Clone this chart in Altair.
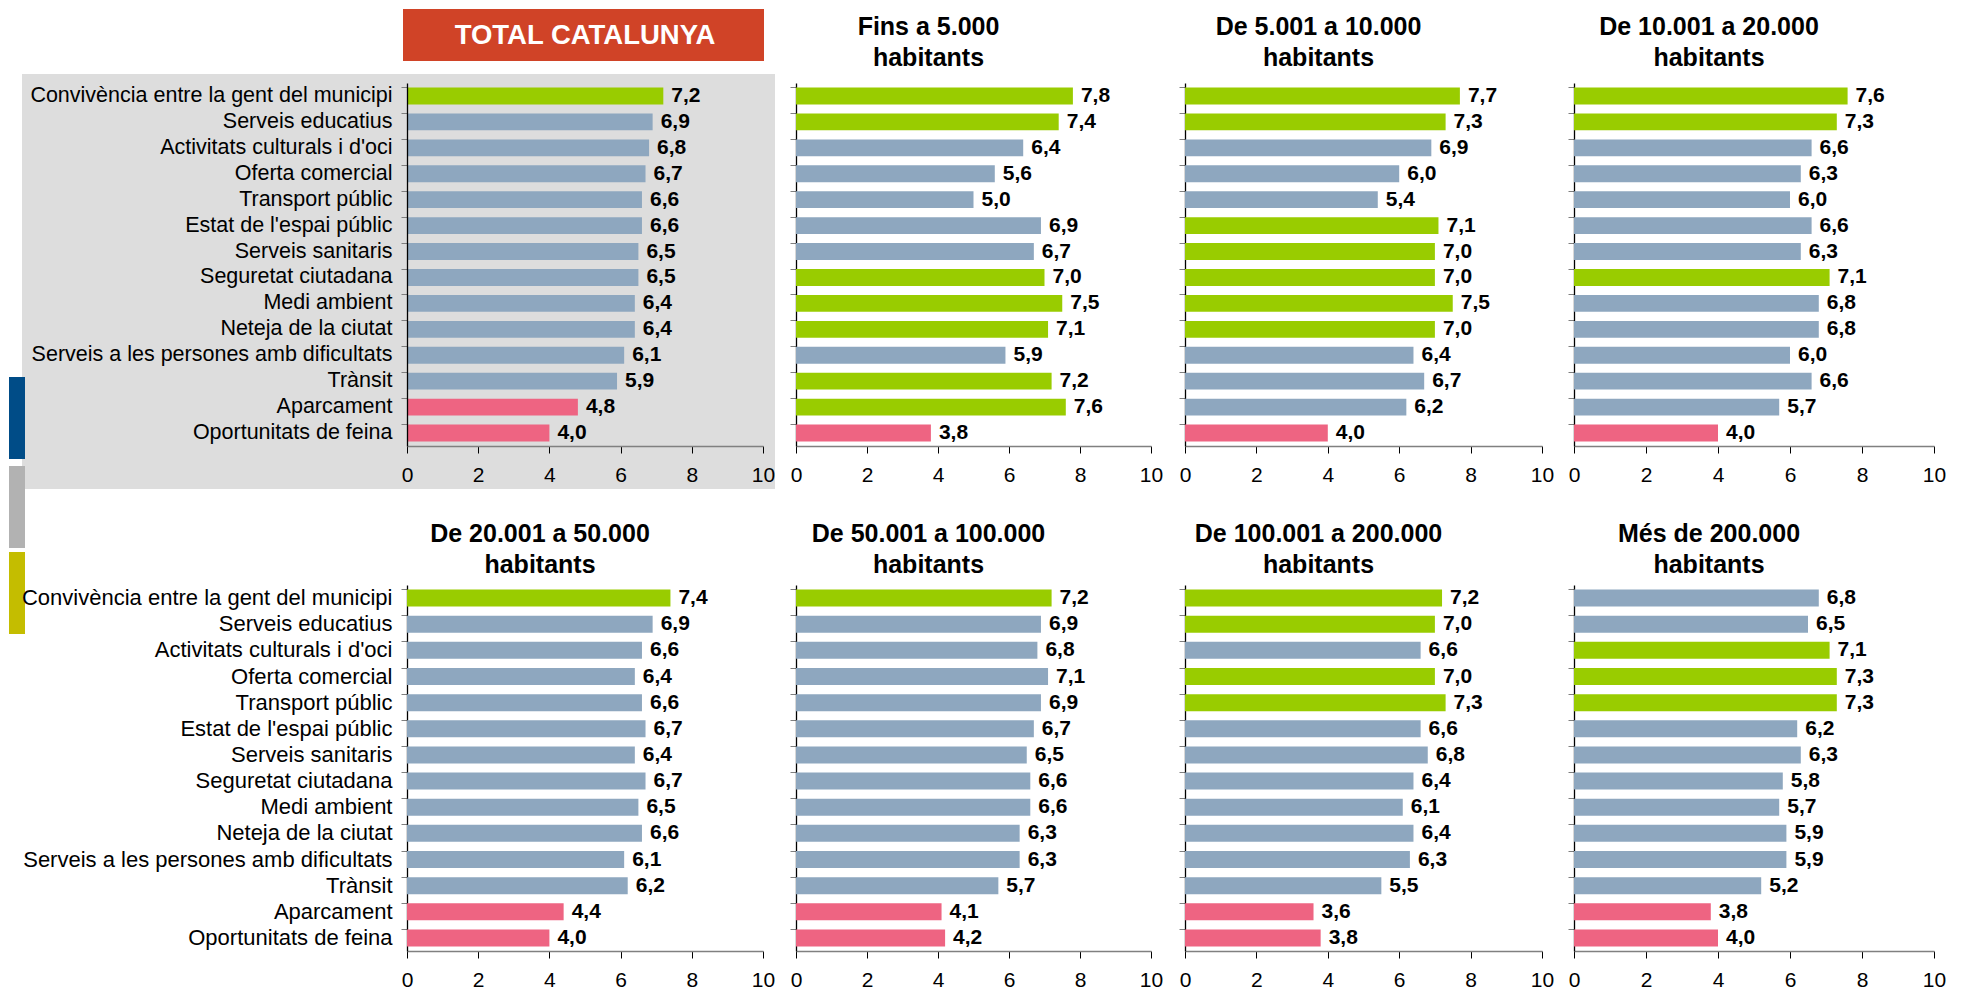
import altair as alt
import pandas as pd

FONT = "Liberation Sans"

categories = [
    "Convivència entre la gent del municipi",
    "Serveis educatius",
    "Activitats culturals i d'oci",
    "Oferta comercial",
    "Transport públic",
    "Estat de l'espai públic",
    "Serveis sanitaris",
    "Seguretat ciutadana",
    "Medi ambient",
    "Neteja de la ciutat",
    "Serveis a les persones amb dificultats",
    "Trànsit",
    "Aparcament",
    "Oportunitats de feina",
]

panel_titles = [
    "TOTAL CATALUNYA",
    ["Fins a 5.000", "habitants"],
    ["De 5.001 a 10.000", "habitants"],
    ["De 10.001 a 20.000", "habitants"],
    ["De 20.001 a 50.000", "habitants"],
    ["De 50.001 a 100.000", "habitants"],
    ["De 100.001 a 200.000", "habitants"],
    ["Més de 200.000", "habitants"],
]

total_vals = [7.2, 6.9, 6.8, 6.7, 6.6, 6.6, 6.5, 6.5, 6.4, 6.4, 6.1, 5.9, 4.8, 4.0]
fins5_vals = [7.8, 7.4, 6.4, 5.6, 5.0, 6.9, 6.7, 7.0, 7.5, 7.1, 5.9, 7.2, 7.6, 3.8]
de5_10_vals = [7.7, 7.3, 6.9, 6.0, 5.4, 7.1, 7.0, 7.0, 7.5, 7.0, 6.4, 6.7, 6.2, 4.0]
de10_20_vals = [7.6, 7.3, 6.6, 6.3, 6.0, 6.6, 6.3, 7.1, 6.8, 6.8, 6.0, 6.6, 5.7, 4.0]
de20_50_vals = [7.4, 6.9, 6.6, 6.4, 6.6, 6.7, 6.4, 6.7, 6.5, 6.6, 6.1, 6.2, 4.4, 4.0]
de50_100_vals = [7.2, 6.9, 6.8, 7.1, 6.9, 6.7, 6.5, 6.6, 6.6, 6.3, 6.3, 5.7, 4.1, 4.2]
de100_200_vals = [7.2, 7.0, 6.6, 7.0, 7.3, 6.6, 6.8, 6.4, 6.1, 6.4, 6.3, 5.5, 3.6, 3.8]
mes200_vals = [6.8, 6.5, 7.1, 7.3, 7.3, 6.2, 6.3, 5.8, 5.7, 5.9, 5.9, 5.2, 3.8, 4.0]

# colour class of each bar: A = high (green), M = middle (blue-grey), B = low (pink)
total_cls = ["A", "M", "M", "M", "M", "M", "M", "M", "M", "M", "M", "M", "B", "B"]
fins5_cls = ["A", "A", "M", "M", "M", "M", "M", "A", "A", "A", "M", "A", "A", "B"]
de5_10_cls = ["A", "A", "M", "M", "M", "A", "A", "A", "A", "A", "M", "M", "M", "B"]
de10_20_cls = ["A", "A", "M", "M", "M", "M", "M", "A", "M", "M", "M", "M", "M", "B"]
de20_50_cls = ["A", "M", "M", "M", "M", "M", "M", "M", "M", "M", "M", "M", "B", "B"]
de50_100_cls = ["A", "M", "M", "M", "M", "M", "M", "M", "M", "M", "M", "M", "B", "B"]
de100_200_cls = ["A", "A", "M", "A", "A", "M", "M", "M", "M", "M", "M", "M", "B", "B"]
mes200_cls = ["M", "M", "A", "A", "A", "M", "M", "M", "M", "M", "M", "M", "B", "B"]

all_vals = [total_vals, fins5_vals, de5_10_vals, de10_20_vals,
            de20_50_vals, de50_100_vals, de100_200_vals, mes200_vals]
all_cls = [total_cls, fins5_cls, de5_10_cls, de10_20_cls,
           de20_50_cls, de50_100_cls, de100_200_cls, mes200_cls]

x_ticks = [0, 2, 4, 6, 8, 10]

GREEN = "#99CC00"
BLUE = "#8EA7BF"
PINK = "#EE6482"

col_widths = [356, 355, 357, 360]
row_heights = [363, 366]
title_offsets = [12, 7]


def make_panel(i):
    vals = all_vals[i]
    cls = all_cls[i]
    df = pd.DataFrame({
        "cat": categories,
        "value": vals,
        "cls": cls,
        "label": [f"{v:.1f}".replace(".", ",") for v in vals],
    })
    show_labels = i in (0, 4)
    z = 1 if i == 0 else 0
    y_axis = alt.Axis(
        title=None, labels=show_labels, labelFontSize=21.5 if i == 0 else 22,
        labelFont=FONT, labelColor="black", labelLimit=600, labelPadding=9,
        ticks=True, tickSize=6, tickColor="#7f7f7f", bandPosition=0,
        domainColor="black", domainWidth=1.3, grid=False, zindex=z,
    )
    x_axis = alt.Axis(
        title=None, values=x_ticks, format="d", grid=False,
        labelFontSize=21, labelFont=FONT, labelColor="black",
        labelPadding=11, labelFlush=False, labelOverlap=False,
        tickSize=7, tickColor="black", domainColor="#808080", domainWidth=1.3,
        zindex=z,
    )
    base = alt.Chart(df).encode(
        y=alt.Y("cat:N", sort=categories,
                scale=alt.Scale(paddingInner=0.35, paddingOuter=0.175),
                axis=y_axis),
        x=alt.X("value:Q", scale=alt.Scale(domain=[0, 10], nice=False), axis=x_axis),
    )
    bars = base.mark_bar().encode(
        color=alt.Color("cls:N", scale=alt.Scale(domain=["A", "M", "B"],
                                                 range=[GREEN, BLUE, PINK]),
                        legend=None)
    )
    text = base.mark_text(align="left", baseline="middle", dx=8, font=FONT,
                          fontSize=21, fontWeight="bold", color="black").encode(
        text="label:N"
    )
    w = col_widths[i % 4]
    h = row_heights[i // 4]
    if i == 0:
        one = pd.DataFrame({"k": [0]})
        bg = alt.Chart(one).mark_rect(color="#DDDDDD").encode(
            x=alt.value(-385), x2=alt.value(368), y=alt.value(-9), y2=alt.value(406))
        red = alt.Chart(one).mark_rect(color="#D04327").encode(
            x=alt.value(-4), x2=alt.value(357), y=alt.value(-74), y2=alt.value(-22))
        red_txt = alt.Chart(one).mark_text(
            align="center", baseline="middle", font=FONT, fontSize=27.5,
            fontWeight="bold", color="white").encode(
            x=alt.value(178), y=alt.value(-47), text=alt.value(panel_titles[0]))
        leg_blue = alt.Chart(one).mark_rect(color="#004C87").encode(
            x=alt.value(-398), x2=alt.value(-382), y=alt.value(294), y2=alt.value(376))
        leg_grey = alt.Chart(one).mark_rect(color="#B2B2B2").encode(
            x=alt.value(-398), x2=alt.value(-382), y=alt.value(383), y2=alt.value(465))
        leg_olive = alt.Chart(one).mark_rect(color="#C4BD00").encode(
            x=alt.value(-398), x2=alt.value(-382), y=alt.value(469), y2=alt.value(551))
        layer = alt.layer(bg, leg_blue, leg_grey, leg_olive, red, red_txt, bars, text)
        return layer.properties(width=w, height=h)
    title = alt.TitleParams(
        text=panel_titles[i], fontSize=25, fontWeight="bold", font=FONT,
        color="black", anchor="middle", dx=-45, offset=title_offsets[i // 4],
        lineHeight=31,
    )
    return alt.layer(bars, text).properties(width=w, height=h, title=title)


panels = [make_panel(i) for i in range(8)]

chart = alt.concat(
    *panels, columns=4, spacing={"row": 136, "column": 29},
    bounds="flush", align="all",
).properties(
    padding=0, background="white",
).configure_view(stroke="transparent")

chart.save("out.html", embed_options={"renderer": "svg", "actions": False})
